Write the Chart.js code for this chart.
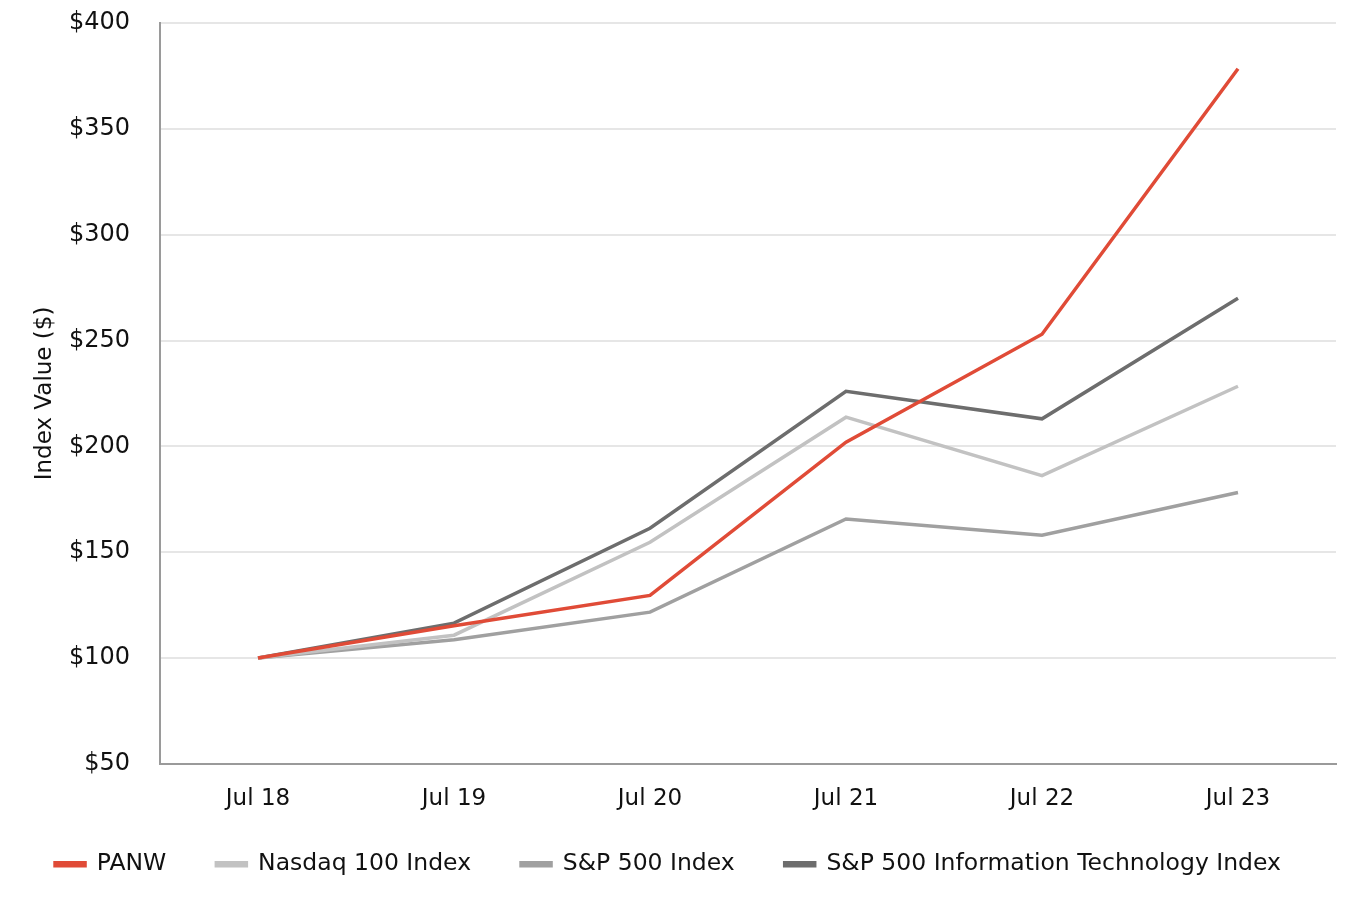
<!DOCTYPE html>
<html>
<head>
<meta charset="utf-8">
<script src="https://cdn.jsdelivr.net/npm/chart.js@4.4.1/dist/chart.umd.min.js"></script>
<style>
  html, body { margin: 0; padding: 0; background: #fff; }
  #wrap { width: 1356px; height: 900px; position: relative; }
</style>
</head>
<body>
<div id="wrap"><canvas id="chart"></canvas></div>
<script>
// categories + series (index value, $100 base)
const years = ['Jul 18', 'Jul 19', 'Jul 20', 'Jul 21', 'Jul 22', 'Jul 23'];
const panw = [100, 115.3, 129.6, 202, 253, 378.4];
const nasdaq100 = [100, 110.8, 154.7, 213.8, 186.2, 228.4];
const sp500 = [100, 108.7, 121.7, 165.7, 158, 178.2];
const sp500Tech = [100, 116.5, 161.3, 226, 213, 270];
const yTicks = [50, 100, 150, 200, 250, 300, 350, 400];

const seriesNames = ['PANW', 'Nasdaq 100 Index', 'S&P 500 Index', 'S&P 500 Information Technology Index'];
const seriesColors = ['#E04B37', '#C2C2C2', '#A0A0A0', '#6D6D6D'];
const seriesData = [panw, nasdaq100, sp500, sp500Tech];

const font = "'DejaVu Sans', sans-serif";

const datasets = seriesData.map((d, i) => ({
  label: seriesNames[i],
  data: d,
  borderColor: seriesColors[i],
  backgroundColor: seriesColors[i],
  borderWidth: 3.5,
  pointRadius: 0,
  tension: 0,
  fill: false,
  order: i === 0 ? 0 : 1
}));

// legend padding sets both the item gap and the vertical offset;
// pull the legend up so the gap can stay wide
const legendShift = {
  id: 'legendShift',
  afterLayout(chart) {
    const lg = chart.legend;
    if (!lg) return;
    lg.top -= 31;
    lg.bottom -= 31;
  }
};

new Chart(document.getElementById('chart'), {
  type: 'line',
  data: { labels: years, datasets },
  plugins: [legendShift],
  options: {
    responsive: true,
    maintainAspectRatio: false,
    animation: false,
    layout: { padding: { top: 23, right: 20, left: 0, bottom: -17 } },
    scales: {
      x: {
        offset: true,
        grid: { display: false, drawTicks: false },
        border: { display: true, color: '#9a9a9a', width: 2 },
        ticks: { color: '#111', font: { family: font, size: 23 }, padding: 21 }
      },
      y: {
        min: 50,
        max: 400,
        afterBuildTicks: (axis) => { axis.ticks = yTicks.map(v => ({ value: v })); },
        afterFit: (axis) => { axis.paddingTop = 14; axis.paddingBottom = 14; axis.width = 160; },
        grid: { color: '#e6e6e6', lineWidth: 2, drawTicks: false },
        border: { display: true, color: '#9a9a9a', width: 2 },
        ticks: {
          color: '#111',
          font: { family: font, size: 24 },
          padding: 30,
          callback: (v) => '$' + v
        },
        title: {
          display: true,
          text: 'Index Value ($)',
          color: '#111',
          font: { family: font, size: 23 },
          padding: { top: 31, bottom: 0 }
        }
      }
    },
    plugins: {
      legend: {
        position: 'bottom',
        labels: {
          color: '#111',
          font: { family: font, size: 23.5 },
          boxWidth: 30,
          boxHeight: 3,
          padding: 50
        }
      },
      tooltip: { enabled: false }
    }
  }
});
</script>
</body>
</html>
